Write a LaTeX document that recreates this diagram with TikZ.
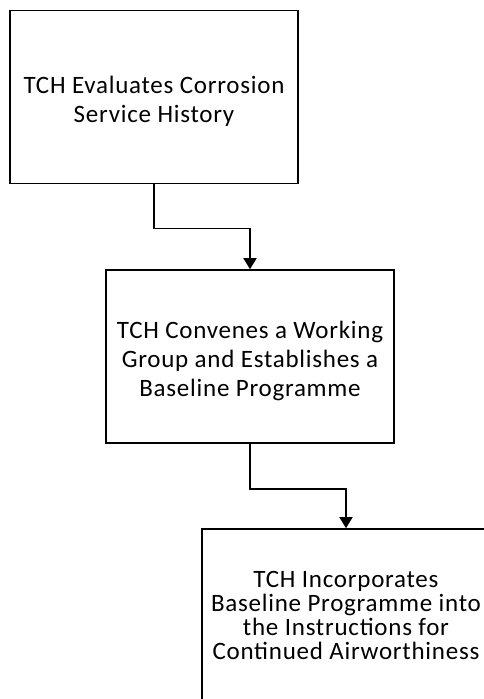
\documentclass[tikz,border=0pt]{standalone}
\usepackage{fontspec}
\setmainfont[LetterSpace=3]{Carlito}
\usetikzlibrary{arrows.meta}
\newcommand{\toppad}{\rule{0pt}{26pt}}
\begin{document}
\begin{tikzpicture}[x=1pt,y=-1pt,
  stepbox/.style={draw,line width=1.6pt,minimum width=288pt,minimum height=173pt,
    align=center,inner sep=0pt,font=\fontsize{25}{29}\selectfont},
  conn/.style={line width=1.6pt,-{Triangle[width=13pt,length=11pt]}}]
\useasboundingbox (0,0) rectangle (484,699);
\clip (0,0) rectangle (484,699);
\node[stepbox] (a) at (154,97) {\toppad TCH Evaluates Corrosion\\Service History};
\node[stepbox] (b) at (250,356.5) {\toppad TCH Convenes a Working\\Group and Establishes a\\Baseline Programme};
\node[stepbox,font=\fontsize{25}{24}\selectfont] (c) at (346,615.5) {TCH Incorporates\\Baseline Programme into\\the Instructions for\\Continued Airworthiness};
\draw[conn] (a.south) -- ++(0,44) -| (b.north);
\draw[conn] (b.south) -- ++(0,45) -| (c.north);
\end{tikzpicture}
\end{document}
